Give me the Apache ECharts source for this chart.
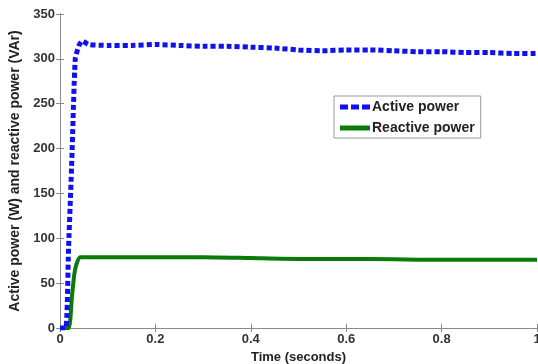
<!DOCTYPE html>
<html>
<head>
<meta charset="utf-8">
<script src="https://cdn.jsdelivr.net/npm/echarts@6/dist/echarts.min.js"></script>
<style>html,body{margin:0;padding:0;background:#fff}#c{width:538px;height:364px}</style>
</head>
<body>
<div id="c"></div>
<script>
var xTicks = [0, 0.2, 0.4, 0.6, 0.8, 1];
var yTicks = [0, 50, 100, 150, 200, 250, 300, 350];
var activeT = [0, 0.012, 0.018, 0.025, 0.032, 0.04, 0.047, 0.06, 0.1, 0.15, 0.2, 0.25, 0.3, 0.35, 0.4, 0.45, 0.5, 0.55, 0.6, 0.65, 0.7, 0.75, 0.8, 0.85, 0.9, 0.95, 1.0];
var activeV = [0, 0, 90, 190, 300, 315, 320, 316, 315, 315, 316, 315, 314, 314, 313, 312, 310, 309, 310, 310, 309, 308, 308, 307, 307, 306, 306];
var reactiveT = [0, 0.018, 0.025, 0.03, 0.035, 0.042, 0.1, 0.2, 0.3, 0.4, 0.5, 0.6, 0.7, 0.8, 0.9, 1.0];
var reactiveV = [0, 0, 35, 60, 72, 79, 79, 79, 79, 78, 77, 77, 76.5, 76, 76, 76];

function pairs(t, v) { return t.map(function (x, i) { return [x, v[i]]; }); }

var font = 'Liberation Sans, Arial, sans-serif';
var chart = echarts.init(document.getElementById('c'), null, { renderer: 'canvas' });
var axisCommon = {
  axisLine: { show: true, lineStyle: { color: '#8a8a8a', width: 1 } },
  axisTick: { show: true, inside: true, length: 4, lineStyle: { color: '#8a8a8a' } },
  splitLine: { show: false }
};
chart.setOption({
  animation: false,
  grid: { left: 60, right: 1, top: 14, bottom: 36, containLabel: false, outerBoundsMode: 'none' },
  legend: {
    show: true,
    left: 334, top: 96,
    orient: 'vertical',
    itemWidth: 30, itemHeight: 5, itemGap: 7,
    backgroundColor: '#fff',
    borderColor: '#999', borderWidth: 1,
    padding: [4, 6, 3, 6],
    textStyle: { fontFamily: font, fontSize: 14, fontWeight: 'bold', color: '#222', padding: [0, 0, 0, -3] },
    data: [
      { name: 'Active power', icon: 'path://M0,0h8v5h-8z M11,0h8v5h-8z M22,0h8v5h-8z' },
      { name: 'Reactive power', icon: 'path://M0,0h30v5h-30z' }
    ]
  },
  xAxis: [
    Object.assign({
      type: 'value', min: 0, max: 1, interval: 0.2,
      name: 'Time (seconds)', nameLocation: 'middle', nameGap: 20,
      nameTextStyle: { fontFamily: font, fontSize: 13, fontWeight: 'bold', color: '#222' },
      axisLabel: { fontFamily: font, fontSize: 13, fontWeight: 'bold', color: '#333', margin: 5,
        formatter: function (v) { return xTicks.indexOf(v) >= 0 ? String(v) : ''; } }
    }, axisCommon),
    Object.assign({ type: 'value', min: 0, max: 1, interval: 0.2, position: 'top', axisLabel: { show: false } }, axisCommon)
  ],
  yAxis: [
    Object.assign({
      type: 'value', min: 0, max: 350, interval: 50,
      name: 'Active power (W) and reactive power (VAr)', nameLocation: 'middle', nameGap: 31,
      nameTextStyle: { fontFamily: font, fontSize: 14, fontWeight: 'bold', color: '#222' },
      axisLabel: { fontFamily: font, fontSize: 13, fontWeight: 'bold', color: '#333', margin: 5,
        formatter: function (v) { return yTicks.indexOf(v) >= 0 ? String(v) : ''; } }
    }, axisCommon),
    Object.assign({ type: 'value', min: 0, max: 350, interval: 50, position: 'right', axisLabel: { show: false } }, axisCommon)
  ],
  series: [
    {
      name: 'Active power', type: 'line', data: pairs(activeT, activeV),
      symbol: 'none', smooth: 0.2, z: 3,
      itemStyle: { color: '#1010f0' },
      lineStyle: { color: '#1010f0', width: 5, type: [5, 3] }
    },
    {
      name: 'Reactive power', type: 'line', data: pairs(reactiveT, reactiveV),
      symbol: 'none', smooth: 0.2, z: 2,
      itemStyle: { color: '#0a7a0a' },
      lineStyle: { color: '#0a7a0a', width: 4 }
    }
  ]
});
</script>
</body>
</html>
